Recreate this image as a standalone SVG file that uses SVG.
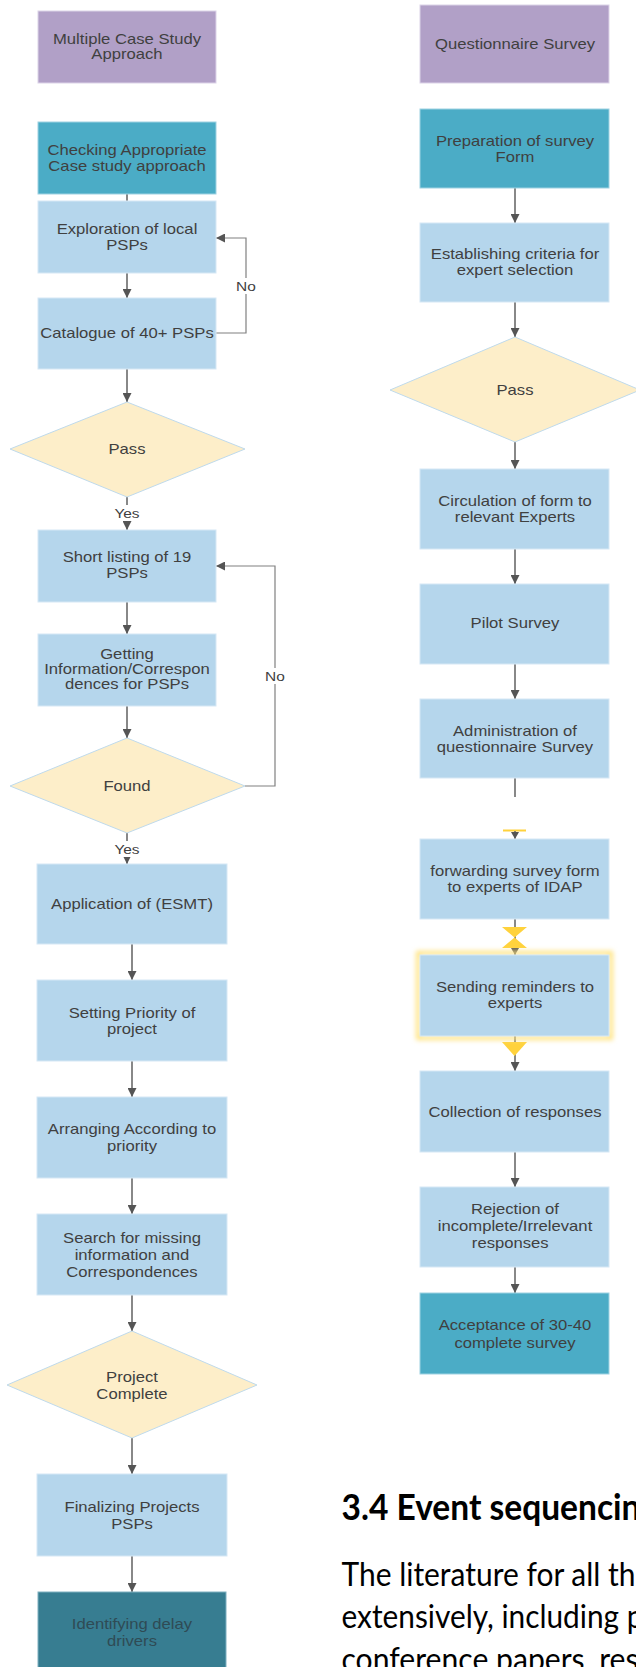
<svg xmlns="http://www.w3.org/2000/svg" width="636" height="1667" viewBox="0 0 636 1667">
<style>
.t{font-family:"Liberation Sans",Arial,sans-serif;font-size:14px;fill:#404040;text-anchor:middle}
.lbl{font-family:"Liberation Sans",Arial,sans-serif;font-size:13px;fill:#404040;text-anchor:middle}
.purple{fill:#B1A0C7;stroke:#DCD3E8;stroke-width:1}
.teal{fill:#4BACC6;stroke:#9ED2E2;stroke-width:1}
.blue{fill:#B5D6EC;stroke:#D6E8F5;stroke-width:1}
.dark{fill:#377D91;stroke:#7FB0C0;stroke-width:1}
.dia{fill:#FDEEC9;stroke:#BFDAEC;stroke-width:1}
.c{fill:none;stroke:#606060;stroke-width:1.5}
.loop{fill:none;stroke:#808080;stroke-width:1.2}
.yel{fill:#FFD23C}
.doc{font-family:Lato,"Liberation Sans",sans-serif;fill:#000}
</style>
<defs>
<marker id="ah" markerUnits="userSpaceOnUse" markerWidth="11" markerHeight="9" refX="9" refY="4.5" orient="auto">
<path d="M0,0 L9,4.5 L0,9 z" fill="#555"/>
</marker>
<marker id="ahs" markerUnits="userSpaceOnUse" markerWidth="9" markerHeight="8" refX="7" refY="4" orient="auto">
<path d="M0,0 L7,4 L0,8 z" fill="#555"/>
</marker>
<filter id="glow" x="-20%" y="-20%" width="140%" height="140%">
<feGaussianBlur stdDeviation="2.5"/>
</filter>
</defs>

<g id="connectors">
<!-- left column -->
<line class="c" x1="127" y1="194" x2="127" y2="201"/>
<line class="c" x1="127" y1="273" x2="127" y2="298" marker-end="url(#ah)"/>
<path class="loop" d="M216,333 H246 V238 H216" marker-end="url(#ah)"/>
<line class="c" x1="127" y1="369" x2="127" y2="402" marker-end="url(#ah)"/>
<line class="c" x1="127" y1="497" x2="127" y2="530" marker-end="url(#ah)"/>
<line class="c" x1="127" y1="602" x2="127" y2="634" marker-end="url(#ah)"/>
<line class="c" x1="127" y1="706" x2="127" y2="738" marker-end="url(#ah)"/>
<path class="loop" d="M245,786 H275 V566 H216" marker-end="url(#ah)"/>
<line class="c" x1="127" y1="833" x2="127" y2="864" marker-end="url(#ah)"/>
<line class="c" x1="132" y1="944" x2="132" y2="980" marker-end="url(#ah)"/>
<line class="c" x1="132" y1="1061" x2="132" y2="1097" marker-end="url(#ah)"/>
<line class="c" x1="132" y1="1178" x2="132" y2="1214" marker-end="url(#ah)"/>
<line class="c" x1="132" y1="1295" x2="132" y2="1331" marker-end="url(#ah)"/>
<line class="c" x1="132" y1="1438" x2="132" y2="1474" marker-end="url(#ah)"/>
<line class="c" x1="132" y1="1556" x2="132" y2="1592" marker-end="url(#ah)"/>
<!-- labels -->
<rect x="234" y="278" width="24" height="16" fill="#fff"/>
<text class="lbl" transform="translate(246 0) scale(1.19 1)" x="0" y="291">No</text>
<rect x="113" y="505" width="28" height="16" fill="#fff"/>
<text class="lbl" transform="translate(127 0) scale(1.19 1)" x="0" y="518">Yes</text>
<rect x="263" y="668" width="24" height="16" fill="#fff"/>
<text class="lbl" transform="translate(275 0) scale(1.19 1)" x="0" y="681">No</text>
<rect x="113" y="841" width="28" height="16" fill="#fff"/>
<text class="lbl" transform="translate(127 0) scale(1.19 1)" x="0" y="854">Yes</text>
<!-- right column -->
<line class="c" x1="515" y1="188" x2="515" y2="223" marker-end="url(#ah)"/>
<line class="c" x1="515" y1="302" x2="515" y2="337" marker-end="url(#ah)"/>
<line class="c" x1="515" y1="442" x2="515" y2="469" marker-end="url(#ah)"/>
<line class="c" x1="515" y1="549" x2="515" y2="584" marker-end="url(#ah)"/>
<line class="c" x1="515" y1="664" x2="515" y2="699" marker-end="url(#ah)"/>
<line class="c" x1="515" y1="778" x2="515" y2="797"/>
<rect class="yel" x="503" y="829.5" width="23" height="2"/>
<line class="c" x1="515" y1="831" x2="515" y2="839" marker-end="url(#ahs)"/>
<line class="c" x1="515" y1="919" x2="515" y2="955" marker-end="url(#ahs)"/>
<path class="yel" d="M502,927 L527,927 L514.5,937.5 L527,948 L502,948 L514.5,937.5 z"/>
<line class="c" x1="515" y1="1036" x2="515" y2="1071" marker-end="url(#ah)"/>
<path class="yel" d="M502,1042 L527,1042 L514.5,1056 z"/>
<line class="c" x1="515" y1="1152" x2="515" y2="1187" marker-end="url(#ah)"/>
<line class="c" x1="515" y1="1267" x2="515" y2="1293" marker-end="url(#ah)"/>
</g>

<!-- left column nodes -->
<g id="n-multiple">
<rect class="purple" x="38" y="11" width="178" height="72"/>
<text class="t" transform="translate(127 0) scale(1.19 1)"><tspan x="0" y="44">Multiple Case Study</tspan><tspan x="0" y="59">Approach</tspan></text>
</g>
<g id="n-checking">
<rect class="teal" x="38" y="122" width="178" height="72"/>
<text class="t" transform="translate(127 0) scale(1.19 1)"><tspan x="0" y="155">Checking Appropriate</tspan><tspan x="0" y="171">Case study approach</tspan></text>
</g>
<g id="n-exploration">
<rect class="blue" x="38" y="201" width="178" height="72"/>
<text class="t" transform="translate(127 0) scale(1.19 1)"><tspan x="0" y="234">Exploration of local</tspan><tspan x="0" y="250">PSPs</tspan></text>
</g>
<g id="n-catalogue">
<rect class="blue" x="38" y="298" width="178" height="71"/>
<text class="t" transform="translate(127 0) scale(1.19 1)"><tspan x="0" y="338">Catalogue of 40+ PSPs</tspan></text>
</g>
<g id="n-pass1">
<polygon class="dia" points="127,402 245,449 127,497 10,449"/>
<text class="t" transform="translate(127 0) scale(1.19 1)"><tspan x="0" y="454">Pass</tspan></text>
</g>
<g id="n-shortlisting">
<rect class="blue" x="38" y="530" width="178" height="72"/>
<text class="t" transform="translate(127 0) scale(1.19 1)"><tspan x="0" y="562">Short listing of 19</tspan><tspan x="0" y="578">PSPs</tspan></text>
</g>
<g id="n-getting">
<rect class="blue" x="38" y="634" width="178" height="72"/>
<text class="t" transform="translate(127 0) scale(1.19 1)"><tspan x="0" y="659">Getting</tspan><tspan x="0" y="674">Information/Correspon</tspan><tspan x="0" y="689">dences for PSPs</tspan></text>
</g>
<g id="n-found">
<polygon class="dia" points="127,738 245,786 127,833 10,786"/>
<text class="t" transform="translate(127 0) scale(1.19 1)"><tspan x="0" y="791">Found</tspan></text>
</g>
<g id="n-application">
<rect class="blue" x="37" y="864" width="190" height="80"/>
<text class="t" transform="translate(132 0) scale(1.19 1)"><tspan x="0" y="909">Application of (ESMT)</tspan></text>
</g>
<g id="n-setting">
<rect class="blue" x="37" y="980" width="190" height="81"/>
<text class="t" transform="translate(132 0) scale(1.19 1)"><tspan x="0" y="1018">Setting Priority of</tspan><tspan x="0" y="1034">project</tspan></text>
</g>
<g id="n-arranging">
<rect class="blue" x="37" y="1097" width="190" height="81"/>
<text class="t" transform="translate(132 0) scale(1.19 1)"><tspan x="0" y="1134">Arranging According to</tspan><tspan x="0" y="1151">priority</tspan></text>
</g>
<g id="n-search">
<rect class="blue" x="37" y="1214" width="190" height="81"/>
<text class="t" transform="translate(132 0) scale(1.19 1)"><tspan x="0" y="1243">Search for missing</tspan><tspan x="0" y="1260">information and</tspan><tspan x="0" y="1277">Correspondences</tspan></text>
</g>
<g id="n-projectcomplete">
<polygon class="dia" points="132,1331 257,1385 132,1438 7,1385"/>
<text class="t" transform="translate(132 0) scale(1.19 1)"><tspan x="0" y="1382">Project</tspan><tspan x="0" y="1399">Complete</tspan></text>
</g>
<g id="n-finalizing">
<rect class="blue" x="37" y="1474" width="190" height="82"/>
<text class="t" transform="translate(132 0) scale(1.19 1)"><tspan x="0" y="1512">Finalizing Projects</tspan><tspan x="0" y="1529">PSPs</tspan></text>
</g>
<g id="n-identifying">
<rect class="dark" x="38" y="1592" width="188" height="80"/>
<text class="t" transform="translate(132 0) scale(1.19 1)" style="fill:#2F4B55"><tspan x="0" y="1629">Identifying delay</tspan><tspan x="0" y="1646">drivers</tspan></text>
</g>

<!-- right column nodes -->
<g id="n-questionnaire">
<rect class="purple" x="420" y="5" width="189" height="78"/>
<text class="t" transform="translate(515 0) scale(1.19 1)"><tspan x="0" y="49">Questionnaire Survey</tspan></text>
</g>
<g id="n-preparation">
<rect class="teal" x="420" y="109" width="189" height="79"/>
<text class="t" transform="translate(515 0) scale(1.19 1)"><tspan x="0" y="146">Preparation of survey</tspan><tspan x="0" y="162">Form</tspan></text>
</g>
<g id="n-establishing">
<rect class="blue" x="420" y="223" width="189" height="79"/>
<text class="t" transform="translate(515 0) scale(1.19 1)"><tspan x="0" y="259">Establishing criteria for</tspan><tspan x="0" y="275">expert selection</tspan></text>
</g>
<g id="n-pass2">
<polygon class="dia" points="515,337 640,390 515,442 390,390"/>
<text class="t" transform="translate(515 0) scale(1.19 1)"><tspan x="0" y="395">Pass</tspan></text>
</g>
<g id="n-circulation">
<rect class="blue" x="420" y="469" width="189" height="80"/>
<text class="t" transform="translate(515 0) scale(1.19 1)"><tspan x="0" y="506">Circulation of form to</tspan><tspan x="0" y="522">relevant Experts</tspan></text>
</g>
<g id="n-pilot">
<rect class="blue" x="420" y="584" width="189" height="80"/>
<text class="t" transform="translate(515 0) scale(1.19 1)"><tspan x="0" y="628">Pilot Survey</tspan></text>
</g>
<g id="n-administration">
<rect class="blue" x="420" y="699" width="189" height="79"/>
<text class="t" transform="translate(515 0) scale(1.19 1)"><tspan x="0" y="736">Administration of</tspan><tspan x="0" y="752">questionnaire Survey</tspan></text>
</g>
<g id="n-forwarding">
<rect class="blue" x="420" y="839" width="189" height="80"/>
<text class="t" transform="translate(515 0) scale(1.19 1)"><tspan x="0" y="876">forwarding survey form</tspan><tspan x="0" y="892">to experts of IDAP</tspan></text>
</g>
<g id="n-sending">
<rect x="418" y="953" width="193" height="85" fill="none" stroke="#FFE27A" stroke-width="4" filter="url(#glow)"/>
<rect class="blue" x="420" y="955" width="189" height="81"/>
<text class="t" transform="translate(515 0) scale(1.19 1)"><tspan x="0" y="992">Sending reminders to</tspan><tspan x="0" y="1008">experts</tspan></text>
</g>
<g id="n-collection">
<rect class="blue" x="420" y="1071" width="189" height="81"/>
<text class="t" transform="translate(515 0) scale(1.19 1)"><tspan x="0" y="1117">Collection of responses</tspan></text>
</g>
<g id="n-rejection">
<rect class="blue" x="420" y="1187" width="189" height="80"/>
<text class="t" transform="translate(515 0) scale(1.19 1)"><tspan x="0" y="1214">Rejection of</tspan><tspan x="0" y="1231">incomplete/Irrelevant</tspan><tspan x="-4" y="1248">responses</tspan></text>
</g>
<g id="n-acceptance">
<rect class="teal" x="420" y="1293" width="189" height="81"/>
<text class="t" transform="translate(515 0) scale(1.19 1)"><tspan x="0" y="1330">Acceptance of 30-40</tspan><tspan x="0" y="1348">complete survey</tspan></text>
</g>

<!-- document text -->
<g id="document-text">
<text class="doc" x="341.5" y="1520" font-size="36" font-weight="bold" textLength="299" lengthAdjust="spacingAndGlyphs">3.4 Event sequencin</text>
<text class="doc" x="341.5" y="1586" font-size="32" textLength="294" lengthAdjust="spacingAndGlyphs">The literature for all th</text>
<text class="doc" x="341.5" y="1628" font-size="32" textLength="302" lengthAdjust="spacingAndGlyphs">extensively, including p</text>
<text class="doc" x="341.5" y="1671" font-size="32" textLength="297" lengthAdjust="spacingAndGlyphs">conference papers, res</text>
</g>
</svg>
